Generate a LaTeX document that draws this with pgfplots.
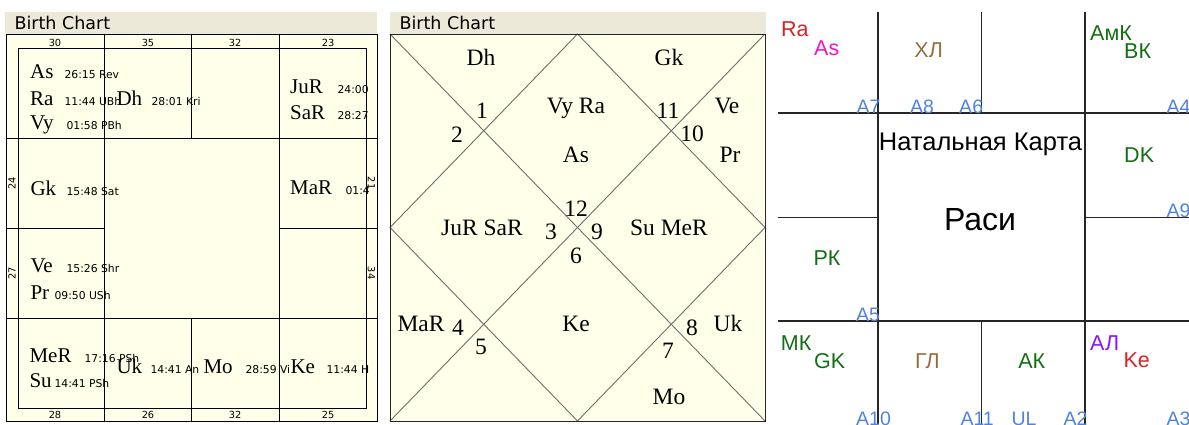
\documentclass[border=0pt]{standalone}
\usepackage{fontspec}
\setmainfont{Liberation Serif}
\newfontfamily\arial{Liberation Sans}
\newfontfamily\tahoma{DejaVu Sans}
\usepackage{pgfplots}
\pgfplotsset{compat=1.18}
\definecolor{hdr}{RGB}{236,233,216}
\definecolor{cream}{RGB}{255,255,234}
\definecolor{dgray}{RGB}{110,110,110}
\definecolor{lblue}{RGB}{80,130,225}
\definecolor{dgreen}{RGB}{20,110,20}
\definecolor{brownx}{RGB}{150,110,60}
\definecolor{redx}{RGB}{215,35,35}
\definecolor{magx}{RGB}{240,20,200}
\definecolor{purx}{RGB}{140,20,240}
\newcommand\fs[1]{\fontsize{#1}{#1}\selectfont}
\newcommand\dg{\tahoma\fs{10.8}}
\newcommand\pn{\fs{21}}
\newcommand\mn{\fs{23.5}}
\newcommand\sn{\tahoma\fs{9.8}}
\newcommand\seg[5]{\addplot[#1] coordinates {(#2,#3) (#4,#5)};}
\newcommand\rfill[5]{\addplot[fill=#1, draw=none] coordinates {(#2,#3) (#4,#3) (#4,#5) (#2,#5)} -- cycle;}
\begin{document}
\begin{tikzpicture}
\useasboundingbox (0,0) rectangle (1189pt,424pt);
\clip (0,0) rectangle (1189pt,424pt);
\begin{axis}[at={(0,0)}, anchor=south west, scale only axis,
  width=1189pt, height=424pt, xmin=0, xmax=1189, ymin=0, ymax=424,
  y dir=reverse, hide axis, clip=false,
  every node/.style={inner sep=0pt}]
% invisible extent
\addplot[draw=none] coordinates {(0,0) (1189,424)};
% ================= Panel 1 =================
\rfill{hdr}{5}{12}{377}{34}
\rfill{cream}{6}{34}{377}{421}
\addplot[black, line width=1pt] coordinates {(6,34) (377,34) (377,421) (6,421)} -- cycle;
\addplot[black, line width=1pt] coordinates {(18,48) (366,48) (366,408) (18,408)} -- cycle;
\seg{black, line width=1pt}{104.5}{34}{104.5}{421}
\seg{black, line width=1pt}{191.5}{34}{191.5}{138}
\seg{black, line width=1pt}{191.5}{318}{191.5}{421}
\seg{black, line width=1pt}{279}{34}{279}{421}
\seg{black, line width=1pt}{6}{138}{377}{138}
\seg{black, line width=1pt}{6}{228}{104.5}{228}
\seg{black, line width=1pt}{279}{228}{377}{228}
\seg{black, line width=1pt}{6}{318}{377}{318}
\node[anchor=base west] at (11,29.5) {\tahoma\fs{17.5}Birth Chart};
% strip numbers
\node[anchor=base] at (55,46) {\sn 30};
\node[anchor=base] at (148,46) {\sn 35};
\node[anchor=base] at (235,46) {\sn 32};
\node[anchor=base] at (328,46) {\sn 23};
\node[anchor=base] at (55,418) {\sn 28};
\node[anchor=base] at (148,418) {\sn 26};
\node[anchor=base] at (235,418) {\sn 32};
\node[anchor=base] at (328,418) {\sn 25};
\node[rotate=90] at (12,183) {\sn 24};
\node[rotate=90] at (12,273) {\sn 27};
\node[rotate=-90] at (371.5,183) {\sn 21};
\node[rotate=-90] at (371.5,273) {\sn 34};
% planets
\node[anchor=base west] at (26.7,78) {\pn As};
\node[anchor=base west] at (61,78) {\dg 26:15 Rev};
\node[anchor=base west] at (26.7,105) {\pn Ra};
\node[anchor=base west] at (61,105) {\dg 11:44 UBh};
\node[anchor=base west] at (26.7,129) {\pn Vy};
\node[anchor=base west] at (63,129) {\dg 01:58 PBh};
\node[anchor=base west] at (113,105) {\pn Dh};
\node[anchor=base west] at (148,105) {\dg 28:01 Kri};
\node[anchor=base west] at (286.7,93) {\pn JuR};
\node[anchor=base west] at (334,93) {\dg 24:00};
\node[anchor=base west] at (286.7,119) {\pn SaR};
\node[anchor=base west] at (334,119) {\dg 28:27};
\node[anchor=base west] at (27,195) {\pn Gk};
\node[anchor=base west] at (63,195) {\dg 15:48 Sat};
\node[anchor=base west] at (286.7,194) {\pn MaR};
\node[anchor=base west] at (342,194) {\dg 01:4};
\node[anchor=base west] at (27,272) {\pn Ve};
\node[anchor=base west] at (63,272) {\dg 15:26 Shr};
\node[anchor=base west] at (27,299) {\pn Pr};
\node[anchor=base west] at (51,299) {\dg 09:50 USh};
\node[anchor=base west] at (26,362) {\pn MeR};
\node[anchor=base west] at (81,362) {\dg 17:16 PSh};
\node[anchor=base west] at (26,387) {\pn Su};
\node[anchor=base west] at (51,387) {\dg 14:41 PSh};
\node[anchor=base west] at (113,373) {\pn Uk};
\node[anchor=base west] at (147,373) {\dg 14:41 An};
\node[anchor=base west] at (200,373) {\pn Mo};
\node[anchor=base west] at (242,373) {\dg 28:59 Vi};
\node[anchor=base west] at (287,373) {\pn Ke};
\node[anchor=base west] at (323,373) {\dg 11:44 H};
% ================= Panel 2 =================
\rfill{hdr}{390}{12}{766}{34}
\rfill{cream}{390}{34}{765}{421}
\seg{dgray, line width=0.9pt}{390}{34}{765}{421}
\seg{dgray, line width=0.9pt}{765}{34}{390}{421}
\addplot[dgray, line width=0.9pt] coordinates {(577.5,34) (765,227.5) (577.5,421) (390,227.5)} -- cycle;
\addplot[black!85, line width=1pt] coordinates {(390,34) (765,34) (765,421) (390,421)} -- cycle;
\node[anchor=base west] at (396,29.5) {\tahoma\fs{17.5}Birth Chart};
\node[anchor=base] at (481,65) {\mn Dh};
\node[anchor=base] at (669,65) {\mn Gk};
\node[anchor=base] at (576,113) {\mn Vy Ra};
\node[anchor=base] at (576,162) {\mn As};
\node[anchor=base] at (727,113) {\mn Ve};
\node[anchor=base] at (730,162) {\mn Pr};
\node[anchor=base] at (482,118) {\mn 1};
\node[anchor=base] at (457,142) {\mn 2};
\node[anchor=base] at (668,118) {\mn 11};
\node[anchor=base] at (692,141) {\mn 10};
\node[anchor=base] at (576,216) {\mn 12};
\node[anchor=base] at (551,239) {\mn 3};
\node[anchor=base] at (597,239) {\mn 9};
\node[anchor=base] at (576,263) {\mn 6};
\node[anchor=base] at (482,235) {\mn JuR SaR};
\node[anchor=base] at (669,235) {\mn Su MeR};
\node[anchor=base] at (421,331) {\mn MaR};
\node[anchor=base] at (458,335) {\mn 4};
\node[anchor=base] at (481,354) {\mn 5};
\node[anchor=base] at (576,331) {\mn Ke};
\node[anchor=base] at (692,335) {\mn 8};
\node[anchor=base] at (728,331) {\mn Uk};
\node[anchor=base] at (668,358) {\mn 7};
\node[anchor=base] at (669,404) {\mn Mo};
% ================= Panel 3 =================
\seg{black!85, line width=1.3pt}{878}{12}{878}{424}
\seg{black!85, line width=1.3pt}{981.5}{12}{981.5}{113}
\seg{black!85, line width=1.3pt}{981.5}{321}{981.5}{424}
\seg{black!85, line width=1.3pt}{1085}{12}{1085}{424}
\seg{black!85, line width=1.3pt}{778}{113}{1189}{113}
\seg{black!85, line width=1.3pt}{778}{217.5}{878}{217.5}
\seg{black!85, line width=1.3pt}{1085}{217.5}{1189}{217.5}
\seg{black!85, line width=1.3pt}{778}{321}{1189}{321}
\node[anchor=base west, text=redx] at (777.5,36) {\arial\fs{21.5}Ra};
\node[anchor=base west, text=magx] at (810.7,55) {\arial\fs{21.5}As};
\node[anchor=base, text=brownx] at (928.7,57) {\arial\fs{21.5}ХЛ};
\node[anchor=base west, text=dgreen] at (1086.7,40) {\arial\fs{21.5}АмК};
\node[anchor=base west, text=dgreen] at (1120.7,58) {\arial\fs{21.5}ВК};
\node[anchor=base west, text=dgreen] at (1120.7,162) {\arial\fs{21.5}DK};
\node[anchor=base] at (980.5,150) {\arial\fs{25.5}Натальная Карта};
\node[anchor=base] at (980,230) {\arial\fs{32}Раси};
\node[anchor=base west, text=dgreen] at (810,265) {\arial\fs{21.5}РК};
\node[anchor=base west, text=dgreen] at (777.3,350) {\arial\fs{21.5}МК};
\node[anchor=base west, text=dgreen] at (810.7,368) {\arial\fs{21.5}GK};
\node[anchor=base, text=brownx] at (927.5,368) {\arial\fs{21.5}ГЛ};
\node[anchor=base, text=dgreen] at (1031.7,368) {\arial\fs{21.5}АК};
\node[anchor=base west, text=purx] at (1086.7,350) {\arial\fs{21.5}АЛ};
\node[anchor=base west, text=redx] at (1120,367) {\arial\fs{21.5}Ke};
\node[anchor=base west, text=lblue] at (853,113) {\arial\fs{19.5}A7};
\node[anchor=base west, text=lblue] at (906.7,113) {\arial\fs{19.5}A8};
\node[anchor=base west, text=lblue] at (955.7,113) {\arial\fs{19.5}A6};
\node[anchor=base west, text=lblue] at (1163,113) {\arial\fs{19.5}A4};
\node[anchor=base west, text=lblue] at (1163,217.5) {\arial\fs{19.5}A9};
\node[anchor=base west, text=lblue] at (852.7,321) {\arial\fs{19.5}A5};
\node[anchor=base west, text=lblue] at (852.7,425) {\arial\fs{19.5}A10};
\node[anchor=base west, text=lblue] at (957,425) {\arial\fs{19.5}A11};
\node[anchor=base west, text=lblue] at (1008,425) {\arial\fs{19.5}UL};
\node[anchor=base west, text=lblue] at (1060,425) {\arial\fs{19.5}A2};
\node[anchor=base west, text=lblue] at (1163,425) {\arial\fs{19.5}A3};
\end{axis}
\end{tikzpicture}
\end{document}
